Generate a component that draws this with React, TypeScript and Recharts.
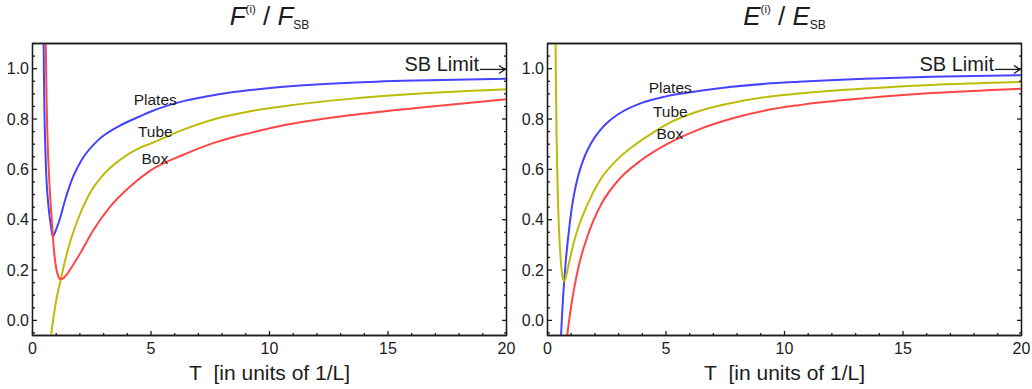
import React from 'react'
import { LineChart, Line, XAxis, YAxis, ReferenceDot, ReferenceArea } from 'recharts'

type Pt = { t: number; v: number }

// left panel: F(i) / F_SB
const fPlates: Pt[] = [
  { t: 0.46, v: 1.2 }, { t: 0.48, v: 1.0 }, { t: 0.5, v: 0.85 }, { t: 0.53, v: 0.72 },
  { t: 0.57, v: 0.6 }, { t: 0.63, v: 0.5 }, { t: 0.7, v: 0.43 }, { t: 0.77, v: 0.38 },
  { t: 0.82, v: 0.348 }, { t: 0.86, v: 0.334 }, { t: 0.92, v: 0.343 }, { t: 1.0, v: 0.362 },
  { t: 1.14, v: 0.399 }, { t: 1.38, v: 0.479 }, { t: 1.66, v: 0.558 }, { t: 2.08, v: 0.638 },
  { t: 2.79, v: 0.718 }, { t: 3.63, v: 0.771 }, { t: 4.54, v: 0.811 }, { t: 5.0, v: 0.83 },
  { t: 6.37, v: 0.871 }, { t: 7.78, v: 0.897 }, { t: 9.19, v: 0.915 }, { t: 10.6, v: 0.928 },
  { t: 13.4, v: 0.944 }, { t: 16.2, v: 0.953 }, { t: 20, v: 0.96 },
]
const fTube: Pt[] = [
  { t: 0.75, v: -0.09 }, { t: 0.8, v: -0.047 }, { t: 0.9, v: 0.02 }, { t: 1.0, v: 0.08 },
  { t: 1.1, v: 0.125 }, { t: 1.2, v: 0.165 }, { t: 1.35, v: 0.228 }, { t: 1.52, v: 0.29 },
  { t: 1.87, v: 0.39 }, { t: 2.36, v: 0.495 }, { t: 3.0, v: 0.58 }, { t: 3.7, v: 0.638 },
  { t: 4.54, v: 0.686 }, { t: 5.0, v: 0.703 }, { t: 6.37, v: 0.758 }, { t: 7.78, v: 0.802 },
  { t: 9.19, v: 0.831 }, { t: 10.6, v: 0.851 }, { t: 13.4, v: 0.88 }, { t: 16.2, v: 0.9 },
  { t: 20, v: 0.918 },
]
const fBox: Pt[] = [
  { t: 0.54, v: 1.3 }, { t: 0.56, v: 1.1 }, { t: 0.6, v: 0.85 }, { t: 0.65, v: 0.68 },
  { t: 0.7, v: 0.57 }, { t: 0.76, v: 0.47 }, { t: 0.82, v: 0.39 }, { t: 0.86, v: 0.335 },
  { t: 0.92, v: 0.265 }, { t: 1.0, v: 0.207 }, { t: 1.08, v: 0.178 }, { t: 1.18, v: 0.164 },
  { t: 1.3, v: 0.168 }, { t: 1.45, v: 0.183 }, { t: 1.59, v: 0.202 }, { t: 2.01, v: 0.266 },
  { t: 2.57, v: 0.359 }, { t: 3.28, v: 0.452 }, { t: 4.12, v: 0.532 }, { t: 5.0, v: 0.597 },
  { t: 6.37, v: 0.658 }, { t: 7.78, v: 0.709 }, { t: 9.19, v: 0.745 }, { t: 10.6, v: 0.775 },
  { t: 13.4, v: 0.815 }, { t: 16.2, v: 0.844 }, { t: 20, v: 0.879 },
]

// right panel: E(i) / E_SB
const ePlates: Pt[] = [
  { t: 0.55, v: -0.1 }, { t: 0.58, v: -0.04 }, { t: 0.62, v: 0.03 }, { t: 0.67, v: 0.11 },
  { t: 0.72, v: 0.175 }, { t: 0.78, v: 0.245 }, { t: 0.86, v: 0.32 }, { t: 0.94, v: 0.385 },
  { t: 1.03, v: 0.45 }, { t: 1.15, v: 0.515 }, { t: 1.31, v: 0.58 }, { t: 1.5, v: 0.635 },
  { t: 1.73, v: 0.685 }, { t: 2.0, v: 0.728 }, { t: 2.29, v: 0.763 }, { t: 2.6, v: 0.792 },
  { t: 3.0, v: 0.82 }, { t: 3.98, v: 0.864 }, { t: 5.0, v: 0.89 },
  { t: 6.37, v: 0.911 }, { t: 7.78, v: 0.928 }, { t: 9.19, v: 0.94 }, { t: 10.6, v: 0.948 },
  { t: 13.4, v: 0.96 }, { t: 16.2, v: 0.968 }, { t: 20, v: 0.974 },
]
const eTube: Pt[] = [
  { t: 0.32, v: 1.3 }, { t: 0.34, v: 1.1 }, { t: 0.36, v: 0.9 }, { t: 0.38, v: 0.75 },
  { t: 0.41, v: 0.6 }, { t: 0.44, v: 0.48 }, { t: 0.48, v: 0.37 }, { t: 0.53, v: 0.28 },
  { t: 0.58, v: 0.215 }, { t: 0.63, v: 0.175 }, { t: 0.69, v: 0.156 }, { t: 0.75, v: 0.162 },
  { t: 0.82, v: 0.19 }, { t: 0.9, v: 0.225 }, { t: 1.0, v: 0.268 }, { t: 1.24, v: 0.352 },
  { t: 1.66, v: 0.455 }, { t: 2.22, v: 0.558 }, { t: 2.93, v: 0.638 }, { t: 3.7, v: 0.698 },
  { t: 4.54, v: 0.751 }, { t: 5.0, v: 0.778 }, { t: 6.37, v: 0.831 }, { t: 7.78, v: 0.864 },
  { t: 9.19, v: 0.887 }, { t: 10.6, v: 0.901 }, { t: 13.4, v: 0.921 }, { t: 16.2, v: 0.935 },
  { t: 20, v: 0.947 },
]
const eBox: Pt[] = [
  { t: 0.8, v: -0.09 }, { t: 0.85, v: -0.045 }, { t: 0.92, v: 0.005 }, { t: 1.03, v: 0.075 },
  { t: 1.15, v: 0.14 }, { t: 1.31, v: 0.213 }, { t: 1.73, v: 0.346 }, { t: 2.29, v: 0.465 },
  { t: 3.0, v: 0.558 }, { t: 3.98, v: 0.638 }, { t: 5.0, v: 0.698 }, { t: 6.37, v: 0.758 },
  { t: 7.78, v: 0.802 }, { t: 9.19, v: 0.834 }, { t: 10.6, v: 0.855 }, { t: 13.4, v: 0.883 },
  { t: 16.2, v: 0.903 }, { t: 20, v: 0.92 },
]

const xTicks = [0, 1, 2, 3, 4, 5, 6, 7, 8, 9, 10, 11, 12, 13, 14, 15, 16, 17, 18, 19, 20]
const xLabels = [0, 5, 10, 15, 20]
const yTicks = [
  -0.05, 0, 0.05, 0.1, 0.15, 0.2, 0.25, 0.3, 0.35, 0.4, 0.45, 0.5, 0.55,
  0.6, 0.65, 0.7, 0.75, 0.8, 0.85, 0.9, 0.95, 1.0, 1.05, 1.1,
]
const yLabels = [0, 0.2, 0.4, 0.6, 0.8, 1.0]

const FONT = '"Liberation Sans", Arial, Helvetica, sans-serif'
const INK = '#1c1c1c'
const BLUE = '#4444ff'
const OLIVE = '#bcbc08'
const RED = '#ff4646'

const W = 516
const H = 389
const MAJOR = 4.5
const MINOR = 2.5
const Y_DOMAIN = [-0.06, 1.1]

const hit = (list: number[], v: number) => list.some(m => Math.abs(m - v) < 1e-6)

function BottomTick(p: any) {
  const major = hit(xLabels, p.payload.value)
  return (
    <g>
      <line x1={p.x} x2={p.x} y1={p.y} y2={p.y - (major ? MAJOR : MINOR)} stroke={INK} strokeWidth={1.3} />
      {major && (
        <text x={p.x} y={p.y + 18} textAnchor="middle" fontSize={16} fontFamily={FONT} fill={INK}>
          {p.payload.value}
        </text>
      )}
    </g>
  )
}

function TopTick(p: any) {
  const major = hit(xLabels, p.payload.value)
  return <line x1={p.x} x2={p.x} y1={p.y} y2={p.y + (major ? MAJOR : MINOR)} stroke={INK} strokeWidth={1.3} />
}

function LeftTick(p: any) {
  const major = hit(yLabels, p.payload.value)
  return (
    <g>
      <line x1={p.x} x2={p.x + (major ? MAJOR : MINOR)} y1={p.y} y2={p.y} stroke={INK} strokeWidth={1.3} />
      {major && (
        <text x={p.x - 3.5} y={p.y + 5.5} textAnchor="end" fontSize={16} fontFamily={FONT} fill={INK}>
          {Number(p.payload.value).toFixed(1)}
        </text>
      )}
    </g>
  )
}

function RightTick(p: any) {
  const major = hit(yLabels, p.payload.value)
  return <line x1={p.x} x2={p.x - (major ? MAJOR : MINOR)} y1={p.y} y2={p.y} stroke={INK} strokeWidth={1.3} />
}

function SbLimit(p: any) {
  const { x, y } = p.viewBox
  return (
    <g>
      <text x={x - 1} y={y + 1.5} textAnchor="end" fontSize={20} fontFamily={FONT} fill={INK}>SB Limit</text>
      <line x1={x} x2={x + 24} y1={y} y2={y} stroke={INK} strokeWidth={1.3} />
      <path d={`M ${x + 19} ${y - 4} L ${x + 25} ${y} L ${x + 19} ${y + 4}`} fill="none" stroke={INK} strokeWidth={1.3} />
    </g>
  )
}

const tag = (value: string) => ({ value, position: 'center' as const, fontSize: 15.5, fill: INK, fontFamily: FONT })

type PanelProps = {
  letter: string
  plates: Pt[]
  tube: Pt[]
  box: Pt[]
  tagAt: { plates: number; tube: number; box: number }
}

function Panel({ letter, plates, tube, box, tagAt }: PanelProps) {
  return (
    <div style={{ position: 'relative', width: W, height: H }}>
      <svg width={W} height={42} style={{ position: 'absolute', left: 0, top: 0 }}>
        <text x={269.5} y={25} textAnchor="middle" fontFamily={FONT} fontSize={26} fill={INK}>
          <tspan fontStyle="italic">{letter}</tspan>
          <tspan fontSize={11.5} dy={-12}>(i)</tspan>
          <tspan dy={12}>{'\u00a0/\u00a0'}</tspan>
          <tspan fontStyle="italic">{letter}</tspan>
          <tspan fontSize={12} dy={3.5}>SB</tspan>
        </text>
      </svg>
      <div style={{ position: 'absolute', left: 0, top: 0 }}>
        <LineChart width={W} height={H} margin={{ top: 42.5, right: 8.5, bottom: 0, left: 31.5 }}>
          <XAxis
            xAxisId={0}
            type="number"
            dataKey="t"
            domain={[0, 20]}
            allowDataOverflow
            ticks={xTicks}
            interval={0}
            height={53.5}
            tickSize={0}
            tickMargin={0}
            tick={<BottomTick />}
            axisLine={{ stroke: INK, strokeWidth: 1.3 }}
            label={{ value: 'T\u00a0\u00a0[in units of 1/L]', position: 'insideBottom', offset: 9, fontSize: 21, fill: INK, fontFamily: FONT }}
          />
          <XAxis
            xAxisId="top"
            orientation="top"
            type="number"
            domain={[0, 20]}
            allowDataOverflow
            ticks={xTicks}
            interval={0}
            height={1}
            tickSize={0}
            tickMargin={0}
            tick={<TopTick />}
            axisLine={{ stroke: INK, strokeWidth: 1.3 }}
          />
          <YAxis
            yAxisId={0}
            type="number"
            domain={Y_DOMAIN}
            allowDataOverflow
            ticks={yTicks}
            interval={0}
            width={1}
            tickSize={0}
            tickMargin={0}
            tick={<LeftTick />}
            axisLine={{ stroke: INK, strokeWidth: 1.3 }}
          />
          <YAxis
            yAxisId="right"
            orientation="right"
            type="number"
            domain={Y_DOMAIN}
            allowDataOverflow
            ticks={yTicks}
            interval={0}
            width={1}
            tickSize={0}
            tickMargin={0}
            tick={<RightTick />}
            axisLine={{ stroke: INK, strokeWidth: 1.3 }}
          />
          <ReferenceArea x1={0} x2={20} y1={Y_DOMAIN[0]} y2={Y_DOMAIN[1]} fill="none" fillOpacity={0} stroke={INK} strokeWidth={1.3} ifOverflow="visible" />
          <Line data={plates} dataKey="v" type="monotone" stroke={BLUE} strokeWidth={2} dot={false} isAnimationActive={false} />
          <Line data={tube} dataKey="v" type="monotone" stroke={OLIVE} strokeWidth={2} dot={false} isAnimationActive={false} />
          <Line data={box} dataKey="v" type="monotone" stroke={RED} strokeWidth={2} dot={false} isAnimationActive={false} />
          <ReferenceDot x={5.18} y={tagAt.plates} r={0} stroke="none" fill="none" label={tag('Plates')} />
          <ReferenceDot x={5.18} y={tagAt.tube} r={0} stroke="none" fill="none" label={tag('Tube')} />
          <ReferenceDot x={5.16} y={tagAt.box} r={0} stroke="none" fill="none" label={tag('Box')} />
          <ReferenceDot x={18.88} y={0.997} r={0} stroke="none" fill="none" label={SbLimit} />
        </LineChart>
      </div>
    </div>
  )
}

export default function App() {
  return (
    <div style={{ position: 'absolute', left: 0, top: 0, width: 1032, height: H, background: '#fff', display: 'flex' }}>
      <Panel letter="F" plates={fPlates} tube={fTube} box={fBox} tagAt={{ plates: 0.878, tube: 0.751, box: 0.645 }} />
      <div style={{ marginLeft: -1 }}>
        <Panel letter="E" plates={ePlates} tube={eTube} box={eBox} tagAt={{ plates: 0.927, tube: 0.831, box: 0.741 }} />
      </div>
    </div>
  )
}
